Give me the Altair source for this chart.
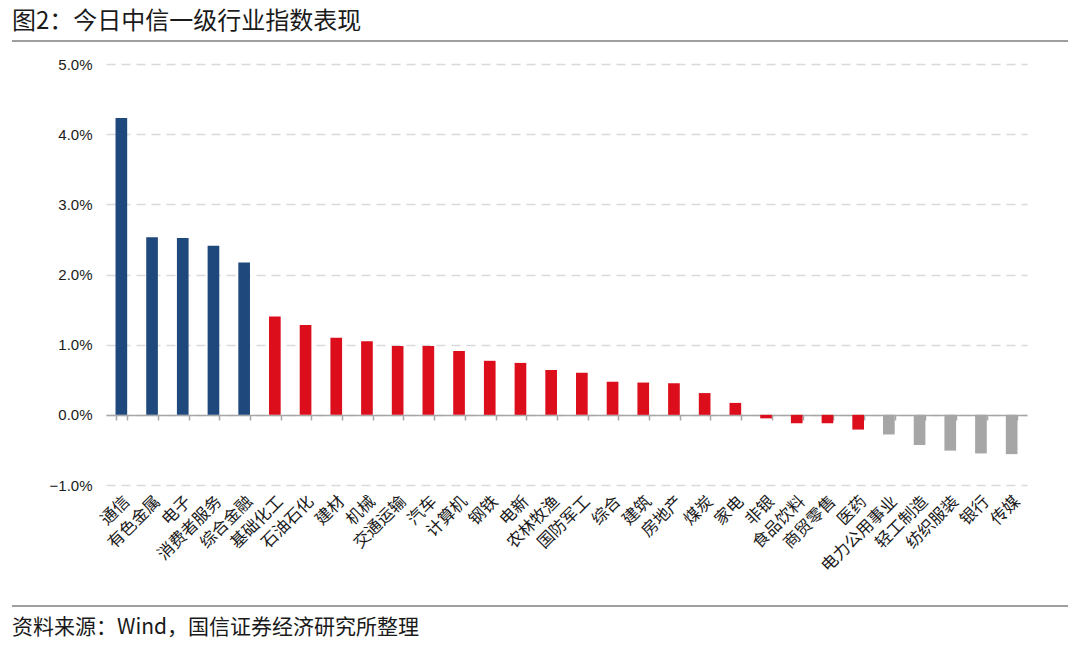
import altair as alt
import pandas as pd

industries = ["通信", "有色金属", "电子", "消费者服务", "综合金融", "基础化工", "石油石化", "建材",
              "机械", "交通运输", "汽车", "计算机", "钢铁", "电新", "农林牧渔", "国防军工", "综合",
              "建筑", "房地产", "煤炭", "家电", "非银", "食品饮料", "商贸零售", "医药", "电力公用事业",
              "轻工制造", "纺织服装", "银行", "传媒"]
changes = [4.23, 2.53, 2.52, 2.41, 2.17, 1.40, 1.28, 1.10, 1.05, 0.98, 0.98, 0.91, 0.77, 0.74,
           0.64, 0.60, 0.47, 0.46, 0.45, 0.31, 0.17, -0.05, -0.12, -0.12, -0.21, -0.28, -0.43,
           -0.51, -0.55, -0.56]
groups = ["前五", "前五", "前五", "前五", "前五",
          "中间", "中间", "中间", "中间", "中间", "中间", "中间", "中间", "中间", "中间",
          "中间", "中间", "中间", "中间", "中间", "中间", "中间", "中间", "中间", "中间",
          "后五", "后五", "后五", "后五", "后五"]
group_names = ["前五", "中间", "后五"]
group_colors = ["#1F497D", "#DC0E1C", "#A6A6A6"]

title_text = "图2：今日中信一级行业指数表现"
source_text = "资料来源：Wind，国信证券经济研究所整理"

df = pd.DataFrame({"industry": industries, "change": changes, "group": groups})

W, H = 921, 421
CJK = "Noto Sans CJK SC"
band = alt.Scale(paddingInner=0.62, paddingOuter=0.31)

y_enc = alt.Y("change:Q", scale=alt.Scale(domain=[-1, 5], nice=False),
              axis=alt.Axis(values=[-1, 0, 1, 2, 3, 4, 5],
                            labelExpr="format(datum.value, '.1f') + '%'",
                            title=None, grid=True, gridDash=[9, 6], gridColor="#d9d9d9",
                            gridWidth=1.5, domain=False, ticks=False, labelPadding=14,
                            labelFont="Liberation Sans", labelFontSize=15,
                            labelColor="#1a1a1a"))

bars = alt.Chart(df).mark_bar().encode(
    x=alt.X("industry:N", sort=industries, scale=band,
            axis=alt.Axis(title=None, orient="bottom", labelAngle=-45, labelFont=CJK,
                          labelFontSize=16.5, labelColor="#1a1a1a", labelPadding=8,
                          domain=False, ticks=False, grid=False)),
    y=y_enc,
    color=alt.Color("group:N", scale=alt.Scale(domain=group_names, range=group_colors),
                    legend=None),
)

zero_axis = alt.Chart(df).mark_bar(opacity=0).encode(
    x=alt.X("industry:N", sort=industries, scale=band,
            axis=alt.Axis(title=None, orient="bottom", labels=False, domain=True,
                          domainColor="#a6a6a6", domainWidth=1.5, ticks=True,
                          tickColor="#a6a6a6", tickWidth=1.5, tickSize=5,
                          tickBand="extent", grid=False, offset=-70)),
    y=alt.Y("change:Q"),
)

one = pd.DataFrame({"t": [title_text]})
title = alt.Chart(one).mark_text(align="left", baseline="middle", font=CJK, fontSize=24,
                                 color="#1a1a1a").encode(
    x=alt.value(-94), y=alt.value(-42), text="t:N")
title_rule = alt.Chart(one).mark_rule(color="#7f7f7f", strokeWidth=1.5).encode(
    x=alt.value(-94), x2=alt.value(962), y=alt.value(-23))

src = pd.DataFrame({"t": [source_text]})
source = alt.Chart(src).mark_text(align="left", baseline="middle", font=CJK, fontSize=21,
                                  color="#1a1a1a").encode(
    x=alt.value(-94), y=alt.value(564), text="t:N")
source_rule = alt.Chart(src).mark_rule(color="#7f7f7f", strokeWidth=1.5).encode(
    x=alt.value(-94), x2=alt.value(962), y=alt.value(542))

chart = alt.layer(bars, zero_axis, title, title_rule, source, source_rule).resolve_axis(
    x="independent"
).properties(
    width=W, height=H,
    autosize=alt.AutoSizeParams(type="none"),
    padding={"left": 98, "top": 56, "right": 45, "bottom": 153},
).configure(background="white").configure_view(stroke=None)

chart.save("out.html", embed_options={"renderer": "svg", "actions": False})
